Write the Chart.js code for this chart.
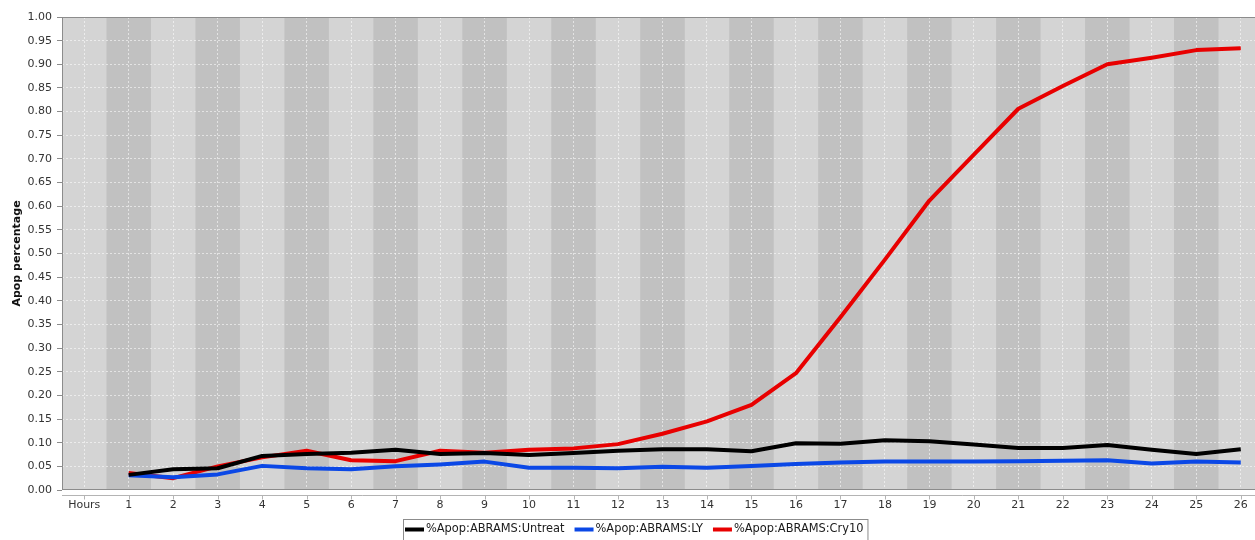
<!DOCTYPE html>
<html>
<head>
<meta charset="utf-8">
<script src="https://cdn.jsdelivr.net/npm/chart.js@4.4.1/dist/chart.umd.min.js"></script>
<style>
  html, body { margin: 0; padding: 0; background: #ffffff; overflow: hidden; }
  #wrap { width: 1272px; height: 540px; }
</style>
</head>
<body>
<div id="wrap"><canvas id="c" width="1272" height="540"></canvas></div>
<script>
// Category axis: first slot is the axis caption, then hours 1..26
const hourLabels = ['Hours', '1', '2', '3', '4', '5', '6', '7', '8', '9', '10', '11', '12', '13',
  '14', '15', '16', '17', '18', '19', '20', '21', '22', '23', '24', '25', '26'];

// Apoptotic fraction per hour
const untreat = [null, 0.032, 0.044, 0.046, 0.072, 0.076, 0.079, 0.085, 0.076, 0.078, 0.074, 0.078, 0.083,
  0.086, 0.086, 0.082, 0.099, 0.098, 0.105, 0.103, 0.096, 0.089, 0.089, 0.095, 0.085, 0.076, 0.086];
const ly = [null, 0.031, 0.027, 0.033, 0.051, 0.046, 0.044, 0.050, 0.054, 0.060, 0.047, 0.047, 0.046,
  0.049, 0.047, 0.051, 0.055, 0.058, 0.060, 0.060, 0.060, 0.061, 0.062, 0.063, 0.056, 0.060, 0.058];
const cry10 = [null, 0.036, 0.025, 0.050, 0.069, 0.083, 0.063, 0.061, 0.083, 0.079, 0.085, 0.088, 0.097,
  0.119, 0.145, 0.180, 0.247, 0.365, 0.487, 0.612, 0.709, 0.806, 0.854, 0.900, 0.914, 0.930, 0.934];

const seriesNames = ['%Apop:ABRAMS:Untreat', '%Apop:ABRAMS:LY', '%Apop:ABRAMS:Cry10'];
const seriesColors = ['#000000', '#0b48e6', '#e80000'];

const yMin = 0, yMax = 1, yStep = 0.05;
const FONT = 'DejaVu Sans';

// Alternating vertical bands behind the plot
const bandPlugin = {
  id: 'bands',
  beforeDraw(chart) {
    const { ctx, chartArea: a, scales: { x } } = chart;
    ctx.save();
    ctx.fillStyle = '#d4d4d4';
    ctx.fillRect(a.left, a.top, a.width, a.height);
    const w = a.width / hourLabels.length;
    ctx.fillStyle = '#c1c1c1';
    for (let i = 1; i < hourLabels.length; i += 2) {
      const cx = x.getPixelForValue(i);
      ctx.fillRect(cx - w / 2, a.top, w, a.height);
    }
    ctx.restore();
  }
};

// Plot outline and the detached category axis line with its tick marks
const framePlugin = {
  id: 'frame',
  beforeDatasetsDraw(chart) {
    const { ctx, chartArea: a, scales: { x } } = chart;
    ctx.save();
    ctx.strokeStyle = '#8c8c8c';
    ctx.lineWidth = 1;
    ctx.strokeRect(a.left + 0.5, a.top + 0.5, a.width - 1, a.height - 1);
    const axisY = a.bottom + 5.5;
    ctx.strokeStyle = '#b4b4b4';
    ctx.beginPath();
    ctx.moveTo(a.left, axisY);
    ctx.lineTo(a.right, axisY);
    for (let i = 0; i < hourLabels.length; i++) {
      const px = Math.round(x.getPixelForValue(i)) + 0.5;
      ctx.moveTo(px, axisY);
      ctx.lineTo(px, axisY + 4);
    }
    ctx.stroke();
    ctx.restore();
  }
};

// Boxed legend centred under the chart
const boxLegendPlugin = {
  id: 'boxLegend',
  afterDraw(chart) {
    const { ctx, width } = chart;
    const sets = chart.data.datasets;
    ctx.save();
    ctx.font = '11.4px "' + FONT + '"';
    const symW = 19, symGap = 2, itemGap = 10, padL = 2, padR = 5;
    const widths = sets.map(d => symW + symGap + ctx.measureText(d.label).width);
    const total = widths.reduce((s, v) => s + v, 0) + itemGap * (sets.length - 1) + padL + padR;
    const left = Math.round(width / 2 - total / 2);
    const top = 519, h = 24, cy = 529.5;
    ctx.fillStyle = '#ffffff';
    ctx.fillRect(left, top, total, h);
    ctx.strokeStyle = '#8c8c8c';
    ctx.lineWidth = 1;
    ctx.strokeRect(left + 0.5, top + 0.5, total - 1, h);
    let xPos = left + padL;
    sets.forEach((d, i) => {
      ctx.strokeStyle = d.borderColor;
      ctx.lineWidth = 4;
      ctx.beginPath();
      ctx.moveTo(xPos, cy);
      ctx.lineTo(xPos + symW, cy);
      ctx.stroke();
      ctx.fillStyle = '#1a1a1a';
      ctx.textBaseline = 'middle';
      ctx.textAlign = 'left';
      ctx.fillText(d.label, xPos + symW + symGap, cy);
      xPos += widths[i] + itemGap;
    });
    ctx.restore();
  }
};

const makeSet = (label, data, color) => ({
  label, data,
  borderColor: color,
  backgroundColor: color,
  borderWidth: 4,
  pointRadius: 0,
  pointHoverRadius: 0,
  tension: 0,
  fill: false,
  spanGaps: false,
  borderJoinStyle: 'round',
  borderCapStyle: 'butt'
});

new Chart(document.getElementById('c'), {
  type: 'line',
  data: {
    labels: hourLabels,
    datasets: [
      makeSet(seriesNames[0], untreat, seriesColors[0]),
      makeSet(seriesNames[1], ly, seriesColors[1]),
      makeSet(seriesNames[2], cry10, seriesColors[2])
    ]
  },
  options: {
    responsive: false,
    animation: false,
    devicePixelRatio: 1,
    layout: { padding: { top: 17, right: 9, bottom: 0, left: 0 } },
    plugins: {
      legend: { display: false },
      tooltip: { enabled: false }
    },
    scales: {
      x: {
        type: 'category',
        offset: true,
        grid: {
          display: true,
          offset: false,
          drawTicks: false,
          color: 'rgba(255,255,255,0.55)',
          lineWidth: 1
        },
        border: { display: false, dash: [2, 2] },
        ticks: {
          autoSkip: false,
          maxRotation: 0,
          padding: 9,
          color: '#333333',
          font: { family: FONT, size: 11 }
        },
        afterFit(scale) { scale.height = 50; }
      },
      y: {
        min: yMin,
        max: yMax,
        grid: {
          display: true,
          color: 'rgba(255,255,255,0.55)',
          lineWidth: 1,
          drawTicks: true,
          tickLength: 5,
          tickColor: '#8c8c8c',
          tickBorderDash: []
        },
        border: { display: false, dash: [2, 2] },
        ticks: {
          stepSize: yStep,
          autoSkip: false,
          padding: 5,
          color: '#333333',
          font: { family: FONT, size: 11 },
          callback: v => Number(v).toFixed(2)
        },
        title: {
          display: true,
          text: 'Apop percentage',
          color: '#111111',
          font: { family: FONT, size: 11, weight: 'bold' },
          padding: { top: 11, bottom: 0 }
        },
        afterFit(scale) { scale.width = 62; }
      }
    }
  },
  plugins: [bandPlugin, framePlugin, boxLegendPlugin]
});
</script>
</body>
</html>
